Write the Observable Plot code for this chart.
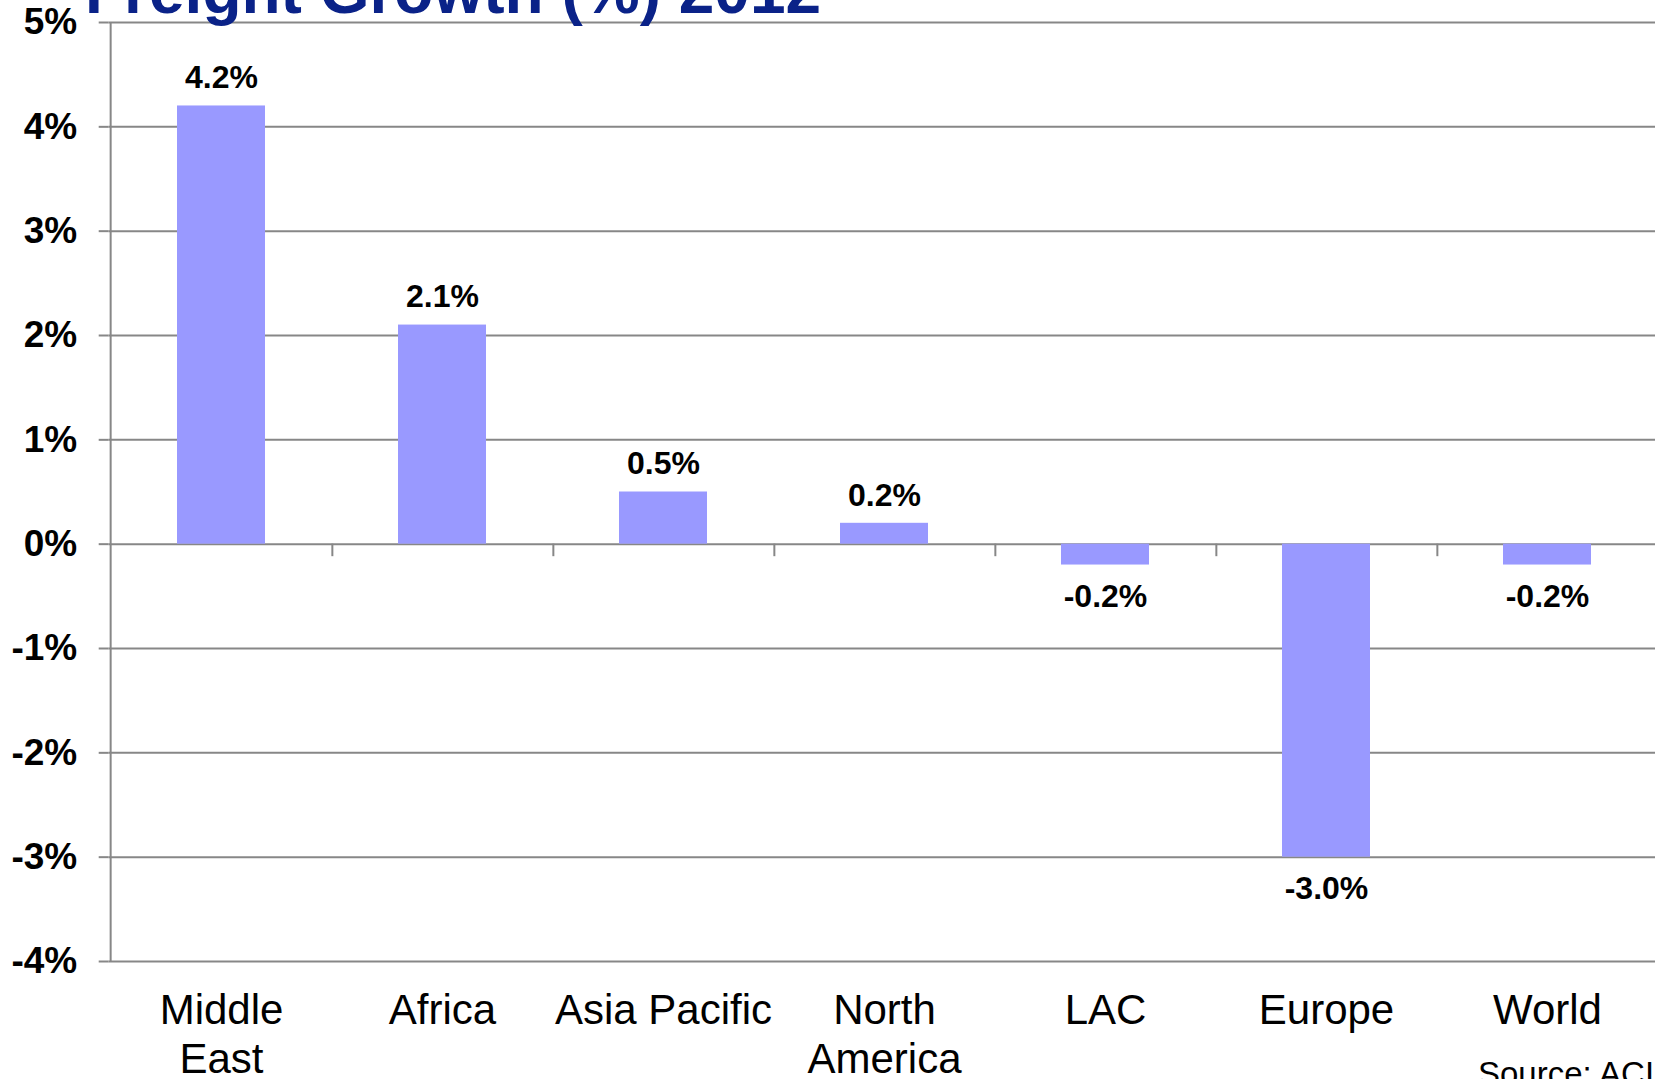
<!DOCTYPE html>
<html>
<head>
<meta charset="utf-8">
<script src="https://cdn.jsdelivr.net/npm/d3@7"></script>
<script src="https://cdn.jsdelivr.net/npm/@observablehq/plot@0.6"></script>
<style>
  html, body { margin: 0; padding: 0; background: #fff; overflow: hidden; width: 1655px; height: 1079px; }
  body { position: relative; font-family: "Liberation Sans", Arial, sans-serif; }
  #title { position: absolute; left: 85px; top: -41px; font-size: 64px; line-height: 1; font-weight: bold; color: #0a2288; white-space: nowrap; z-index: 2; }
  #source { position: absolute; left: 1478px; top: 1056px; font-size: 33px; line-height: 1.1; color: #000; white-space: nowrap; }
  #chart { position: absolute; left: 0; top: 0; width: 1700px; }
  #chart svg { max-width: none !important; width: 1700px !important; height: 1079px !important; }
</style>
</head>
<body>
<div id="title">Freight Growth (%) 2012</div>
<div id="chart"></div>
<div id="source">Source: ACI</div>
<script>
const categories = ["Middle East", "Africa", "Asia Pacific", "North America", "LAC", "Europe", "World"];
const tickLabels = ["Middle\nEast", "Africa", "Asia Pacific", "North\nAmerica", "LAC", "Europe", "World"];
const growth = [4.2, 2.1, 0.5, 0.2, -0.2, -3.0, -0.2];
const valueLabels = ["4.2%", "2.1%", "0.5%", "0.2%", "-0.2%", "-3.0%", "-0.2%"];
const yTicks = [-4, -3, -2, -1, 0, 1, 2, 3, 4, 5];

const data = categories.map((c, i) => ({category: c, value: growth[i], label: valueLabels[i]}));

const W = 1700, H = 1079, mL = 108.7, mR = 1700 - 1660.6, mT = 22, mB = 118;
const step = (W - mL - mR) / categories.length;
const gray = "#878787";

const chart = Plot.plot({
  width: W,
  height: H,
  marginLeft: mL,
  marginRight: mR,
  marginTop: mT,
  marginBottom: mB,
  style: {fontFamily: "'Liberation Sans', Arial, sans-serif", color: "#000", background: "transparent"},
  x: {domain: categories, paddingInner: 0.6, paddingOuter: 0.3, label: null},
  y: {domain: [-4, 5], label: null},
  marks: [
    Plot.ruleY(yTicks, {stroke: gray, strokeWidth: 2, strokeOpacity: 1}),
    Plot.barY(data, {x: "category", y: "value", fill: "#9999ff"}),
    Plot.ruleX(categories.slice(0, 1), {x: d => d, dx: -step / 2, y1: -4, y2: 5, stroke: gray, strokeWidth: 2}),
    Plot.ruleX(categories.slice(0, -1), {x: d => d, dx: step / 2, y1: 0, y2: -0.12, stroke: gray, strokeWidth: 2}),
    Plot.text(data.filter(d => d.value >= 0), {x: "category", y: "value", text: "label", dy: -28, lineAnchor: "middle", fontSize: 32, fontWeight: "bold", fill: "#000"}),
    Plot.text(data.filter(d => d.value < 0), {x: "category", y: "value", text: "label", dy: 32, lineAnchor: "middle", fontSize: 32, fontWeight: "bold", fill: "#000"}),
    Plot.axisY({ticks: yTicks, tickFormat: d => d + "%", tickSize: 10, tickPadding: 22, stroke: gray, strokeWidth: 2, fontSize: 37, fontWeight: "bold", fill: "#000"}),
    Plot.axisX({tickSize: 0, tickPadding: 27, fontSize: 42, lineHeight: 1.18, fill: "#000", tickFormat: (d) => tickLabels[categories.indexOf(d)]})
  ]
});
document.getElementById("chart").appendChild(chart);
</script>
</body>
</html>
